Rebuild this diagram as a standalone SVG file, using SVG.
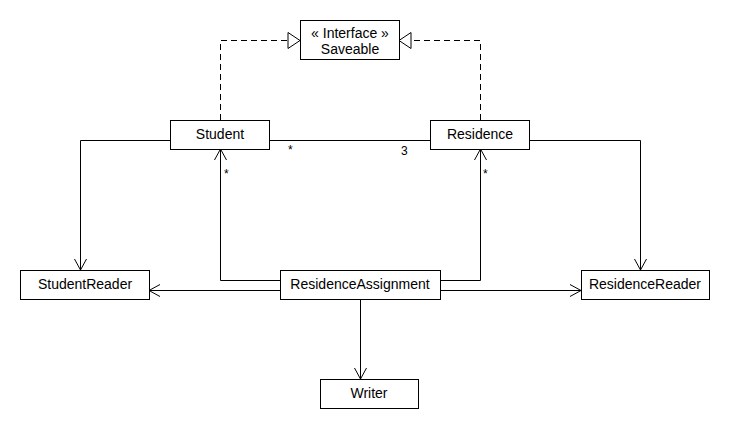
<svg xmlns="http://www.w3.org/2000/svg" width="730" height="430" viewBox="0 0 730 430">
<style>
.box{fill:#fff;stroke:#000;stroke-width:1}
.t{font-family:"Liberation Sans",Arial,sans-serif;font-size:14px;fill:#000;text-anchor:middle}
.l{font-family:"Liberation Sans",Arial,sans-serif;font-size:12px;fill:#000}
.c{fill:none;stroke:#000;stroke-width:1}
.d{stroke-dasharray:6,4}
</style>
<defs>
<marker id="open" markerWidth="12" markerHeight="14" refX="11" refY="7" orient="auto" markerUnits="userSpaceOnUse">
<path d="M0,1 L11,7 L0,13" fill="none" stroke="#000" stroke-width="1"/>
</marker>
<marker id="tri" markerWidth="14" markerHeight="18" refX="13" refY="9" orient="auto" markerUnits="userSpaceOnUse">
<path d="M1,1 L13,9 L1,17 Z" fill="#fff" stroke="#000" stroke-width="1"/>
</marker>
</defs>
<rect width="730" height="430" fill="#fff"/>
<g id="connectors">
<path class="c d" d="M220.5,120 V40.5 H300" marker-end="url(#tri)"/>
<path class="c d" d="M480.5,120 V40.5 H399" marker-end="url(#tri)"/>
<path class="c" d="M269,140.5 H430"/>
<path class="c" d="M170,140.5 H80.5 V270" marker-end="url(#open)"/>
<path class="c" d="M280,280.5 H220.5 V149" marker-end="url(#open)"/>
<path class="c" d="M280,290.5 H149" marker-end="url(#open)"/>
<path class="c" d="M441,280.5 H480.5 V149" marker-end="url(#open)"/>
<path class="c" d="M529,140.5 H640.5 V270" marker-end="url(#open)"/>
<path class="c" d="M441,290.5 H581" marker-end="url(#open)"/>
<path class="c" d="M360.5,299 V379" marker-end="url(#open)"/>
<text class="l" x="288" y="154">*</text>
<text class="l" x="401" y="155">3</text>
<text class="l" x="224" y="178">*</text>
<text class="l" x="483" y="178">*</text>
</g>
<g id="saveable">
<rect class="box" x="300.5" y="20.5" width="99" height="39"/>
<text class="t" x="350" y="38">« Interface »</text>
<text class="t" x="350" y="54">Saveable</text>
</g>
<g id="student">
<rect class="box" x="170.5" y="120.5" width="99" height="29"/>
<text class="t" x="220" y="139">Student</text>
</g>
<g id="residence">
<rect class="box" x="430.5" y="120.5" width="99" height="29"/>
<text class="t" x="480" y="139">Residence</text>
</g>
<g id="studentreader">
<rect class="box" x="20.5" y="270.5" width="129" height="29"/>
<text class="t" x="85" y="289">StudentReader</text>
</g>
<g id="residenceassignment">
<rect class="box" x="280.5" y="270.5" width="160" height="29"/>
<text class="t" x="360" y="289">ResidenceAssignment</text>
</g>
<g id="residencereader">
<rect class="box" x="581.5" y="270.5" width="128" height="29"/>
<text class="t" x="645" y="289">ResidenceReader</text>
</g>
<g id="writer">
<rect class="box" x="320.5" y="379.5" width="98" height="29"/>
<text class="t" x="369" y="398">Writer</text>
</g>
</svg>
